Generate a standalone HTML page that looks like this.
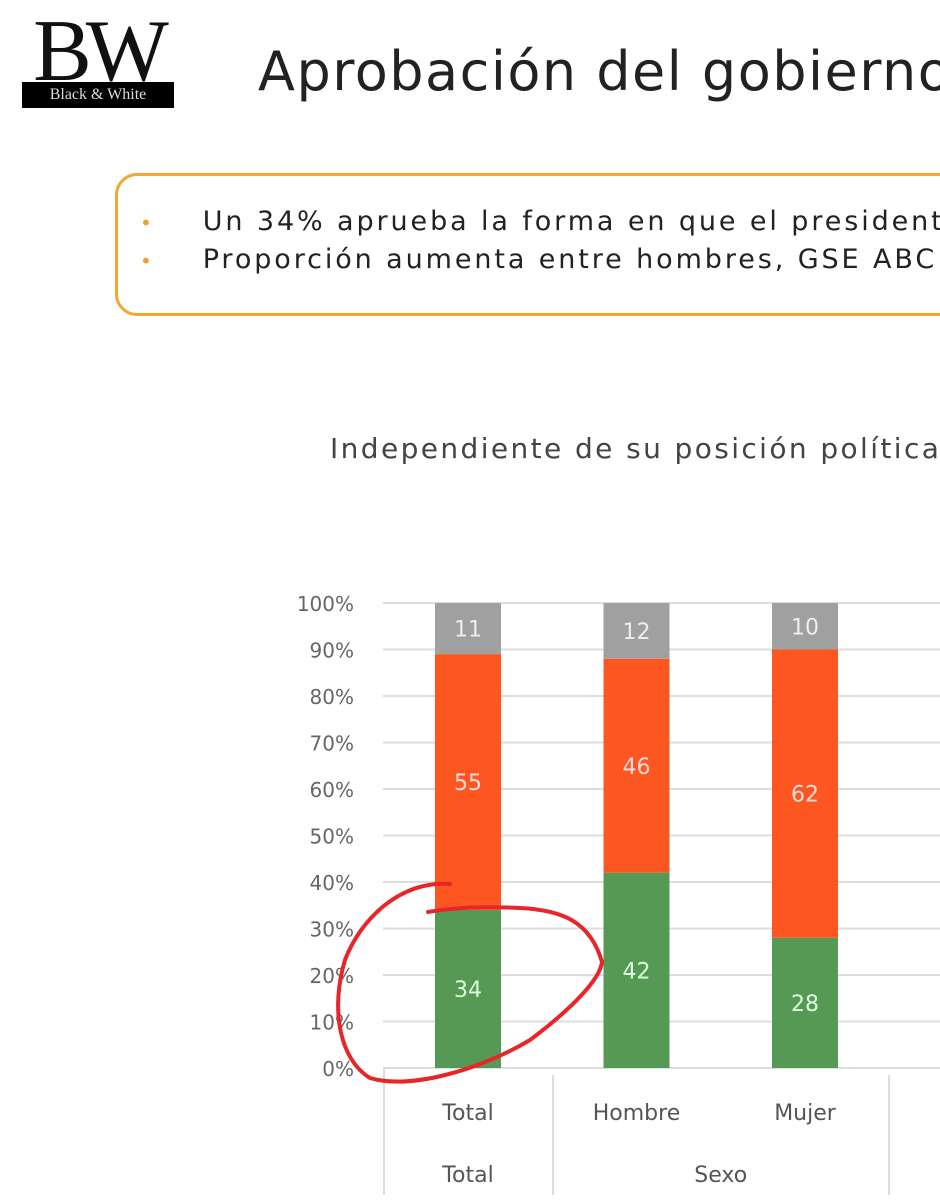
<!DOCTYPE html>
<html><head><meta charset="utf-8">
<style>
body{margin:0;width:940px;height:1200px;overflow:hidden;background:#fff;font-family:"DejaVu Sans",sans-serif;position:relative}
.abs{position:absolute}
</style></head><body>
<div class="abs" style="left:18px;top:14px;width:160px;height:96px">
  <div style="position:absolute;left:0;top:-6px;width:160px;text-align:center;font-family:'Liberation Serif',serif;font-size:88px;line-height:88px;letter-spacing:-6px;color:#111">BW</div>
  <div style="position:absolute;left:4px;top:68px;width:152px;height:26px;background:#000;color:#ddd;font-family:'Liberation Serif',serif;font-size:16px;line-height:26px;text-align:center">Black &amp; White</div>
</div>
<div class="abs" style="left:258px;top:40px;font-size:54px;letter-spacing:1.5px;color:#222;white-space:nowrap">Aprobación del gobierno</div>
<div class="abs" style="left:115px;top:173px;width:860px;height:137px;border:3px solid #f0a830;border-radius:22px"></div>
<div class="abs" style="left:140px;top:206px;font-size:27px;letter-spacing:2.9px;color:#222;white-space:nowrap"><span style="color:#f0a030;font-size:20px;margin-right:48px">•</span>Un 34% aprueba la forma en que el president</div>
<div class="abs" style="left:140px;top:244px;font-size:27px;letter-spacing:2.9px;color:#222;white-space:nowrap"><span style="color:#f0a030;font-size:20px;margin-right:48px">•</span>Proporción aumenta entre hombres, GSE ABC</div>
<div class="abs" style="left:330px;top:432px;font-size:28px;letter-spacing:2.4px;color:#444;white-space:nowrap">Independiente de su posición política</div>
<svg class="abs" style="left:0;top:0" width="940" height="1200" id="chart"></svg>
<script>
const categories=["Total","Hombre","Mujer","Extra"];
const approve=[34,42,28,38];
const disapprove=[55,46,62,52];
const noAnswer=[11,12,10,10];
const yTicks=[0,10,20,30,40,50,60,70,80,90,100];
const NS="http://www.w3.org/2000/svg";
const svg=document.getElementById('chart');
const y=v=>1068-v*4.65;
const x=i=>468+i*168.5;
function mk(t,a,p){const e=document.createElementNS(NS,t);for(const k in a)e.setAttribute(k,a[k]);(p||svg).appendChild(e);return e;}
yTicks.forEach(t=>{
 const l=mk('line',{x1:383,x2:940,y1:y(t),y2:y(t),stroke:'#ddd','stroke-width':2});
 
 
 const tx=mk('text',{x:354,y:y(t)+8,'text-anchor':'end','font-size':20,fill:'#666','font-family':'DejaVu Sans, sans-serif'});
 tx.textContent=t+'%';
 
 
});
const series=[[approve,'#559955','#dfd'],[disapprove,'#fd5620','#fdd'],[noAnswer,'#a0a0a0','#eee']];
categories.forEach((c,i)=>{
 let base=0;
 series.forEach(([arr,col,tc])=>{
  const v=arr[i];
  const r=mk('rect',{x:x(i)-33,y:y(base+v),width:66,height:v*4.65,fill:col});
  
  
  const t=mk('text',{x:x(i),y:y(base+v/2)+8,'text-anchor':'middle','font-size':22,fill:tc,'font-family':'DejaVu Sans, sans-serif'});
  t.textContent=v;
  
  
  base+=v;
 });
 if(i<3){
  const t=mk('text',{x:x(i),y:1120,'text-anchor':'middle','font-size':22,fill:'#555','font-family':'DejaVu Sans, sans-serif'});
  t.textContent=c;
  
  
 }
});
[[384,1068],[553,1075],[889,1075]].forEach(([sx,sy])=>{
 const l=mk('line',{x1:sx,x2:sx,y1:sy,y2:1195,stroke:'#ddd','stroke-width':2});
 
 
});
[["Total",x(0)],["Sexo",(x(1)+x(2))/2]].forEach(([s,px])=>{
 const t=mk('text',{x:px,y:1182,'text-anchor':'middle','font-size':22,fill:'#555','font-family':'DejaVu Sans, sans-serif'});
 t.textContent=s;
 
 
});
const an=mk('path',{d:'M450 884 C400 880 360 920 345 960 C330 1010 340 1060 370 1078 C410 1090 480 1070 530 1040 C570 1010 600 980 602 962 C590 920 560 910 520 908 C480 906 450 908 428 912',fill:'none',stroke:'#e8262a','stroke-width':4,'stroke-linecap':'round'});


</script>
</body></html>
